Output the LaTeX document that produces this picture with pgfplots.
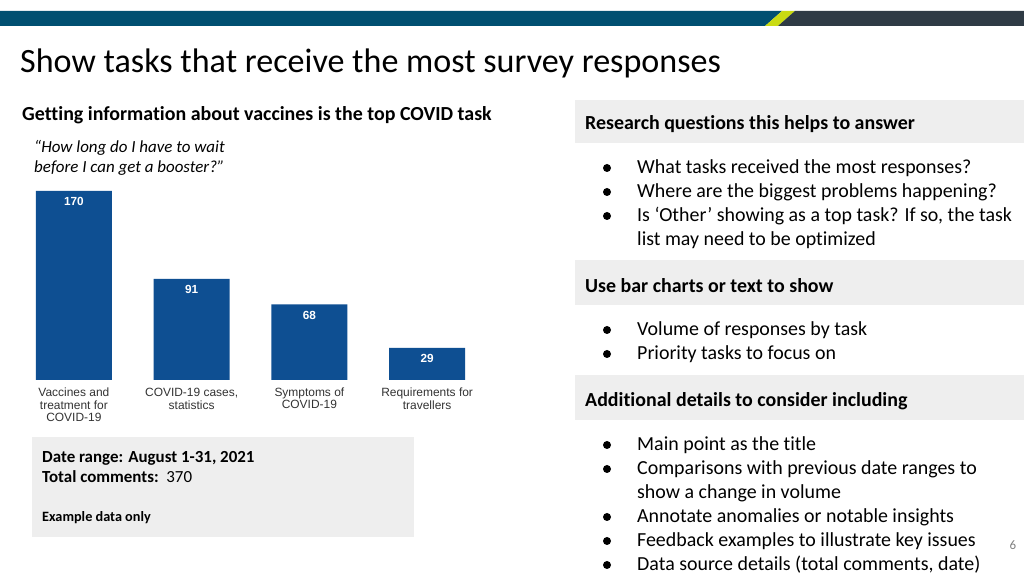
\documentclass[border=0pt]{standalone}
\usepackage{fontspec}
\setmainfont{Carlito}[Ligatures={NoCommon}]
\newfontfamily\arialf{Liberation Sans}
\usepackage{pgfplots}
\pgfplotsset{compat=1.18}

\definecolor{band}{HTML}{004F71}
\definecolor{lime}{HTML}{C9DB13}
\definecolor{slate}{HTML}{2F3B45}
\definecolor{barblue}{HTML}{0E4F92}
\definecolor{boxgray}{HTML}{EEEEEE}
\definecolor{labgray}{HTML}{333333}

\newcommand{\fs}[1]{\fontsize{#1}{1.2\dimexpr#1bp\relax}\selectfont}

\begin{document}
\begin{tikzpicture}[x=1bp,y=1bp]
\path[use as bounding box,fill=white] (0,0) rectangle (1024,576);

% top band
\fill[band] (0,565) -- (782,565) -- (765,550) -- (0,550) -- cycle;
\fill[lime] (782,565) -- (795,565) -- (778,550) -- (765,550) -- cycle;
\fill[slate] (795,565) -- (1024,565) -- (1024,550) -- (778,550) -- cycle;

% title
\node[anchor=base west,inner sep=0] at (20,503) {\fs{34.2}Show tasks that receive the most survey responses};

% left side
\node[anchor=base west,inner sep=0] at (22,455) {\fs{20}\bfseries Getting information about vaccines is the top COVID task};
\node[anchor=base west,inner sep=0] at (34,423) {\fs{17}\itshape “How long do I have to wait};
\node[anchor=base west,inner sep=0] at (34,403) {\fs{17}\itshape before I can get a booster?”};

\begin{axis}[
    at={(15bp,196bp)}, anchor=south west,
    scale only axis,
    width=471bp, height=189bp,
    xmin=-0.5, xmax=3.5,
    ymin=0, ymax=170,
    axis line style={draw=none},
    major tick length=0pt,
    ytick=\empty,
    xtick={0,1,2,3},
    xticklabels={{\strut Vaccines and\\treatment for\\COVID-19}, {\strut COVID-19 cases,\\statistics}, {\strut Symptoms of\\COVID-19}, {\strut Requirements for\\travellers}},
    xticklabel style={align=center, anchor=north, text=labgray, font=\arialf\fontsize{12}{12.4}\selectfont, yshift=-4bp},
    clip=false,
    ybar, bar width=76bp,
    nodes near coords,
    /pgf/number format/assume math mode=true,
    every node near coord/.append style={anchor=north, yshift=-3bp, text=white, font=\arialf\bfseries\fontsize{11.8}{12}\selectfont},
]
\addplot[fill=barblue, draw=none] coordinates {(0,170) (1,91) (2,68) (3,29)};
\end{axis}

% data box
\fill[boxgray] (32,139) rectangle (414,39);
\node[anchor=base west,inner sep=0] at (42,113) {\fs{17}\bfseries Date range: August 1-31, 2021};
\node[anchor=base west,inner sep=0] at (42,93) {\fs{17}\textbf{Total comments:}\ \ 370};
\node[anchor=base west,inner sep=0] at (42,54) {\fs{14.3}\bfseries Example data only};

% right side headers
\fill[boxgray] (575,476) rectangle (1024,433);
\node[anchor=base west,inner sep=0] at (585,446) {\fs{20}\bfseries Research questions this helps to answer};
\fill[boxgray] (575,316) rectangle (1024,271);
\node[anchor=base west,inner sep=0] at (585,283) {\fs{20}\bfseries Use bar charts or text to show};
\fill[boxgray] (575,201) rectangle (1024,156);
\node[anchor=base west,inner sep=0] at (585,169) {\fs{20}\bfseries Additional details to consider including};

% bullet lines
\foreach \yb/\txt/\dot in {
  402/What tasks received the most responses?/1,
  378/Where are the biggest problems happening?/1,
  354/Is ‘Other’ showing as a top task? If so{,} the task/1,
  330/list may need to be optimized/0,
  240/Volume of responses by task/1,
  216/Priority tasks to focus on/1,
  125/Main point as the title/1,
  101/Comparisons with previous date ranges to/1,
  77/show a change in volume/0,
  53/Annotate anomalies or notable insights/1,
  29/Feedback examples to illustrate key issues/1,
  5/Data source details (total comments{,} date)/1}{
  \node[anchor=base west,inner sep=0] at (637,\yb) {\fs{20}\txt};
  \ifnum\dot=1 \fill[black] (607,\yb+6) circle (4); \fi
}

\node[anchor=center,inner sep=0,text=gray] at (1013,31) {\fs{13}6};
\end{tikzpicture}
\end{document}
